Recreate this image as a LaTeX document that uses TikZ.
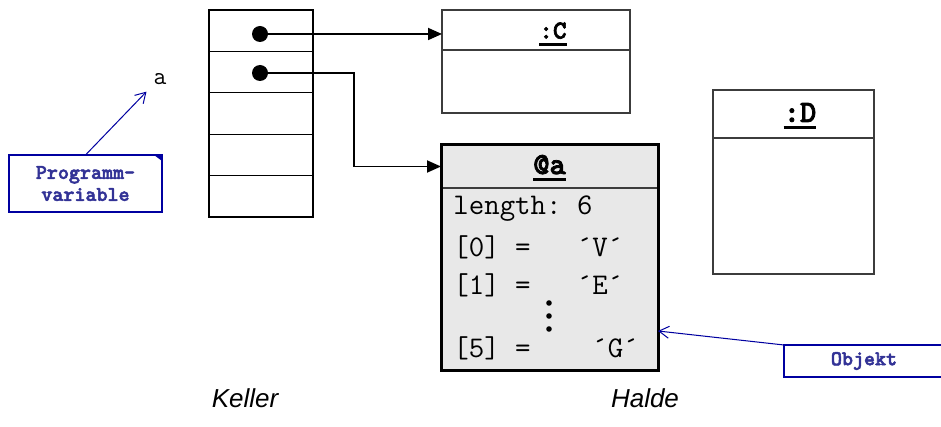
\documentclass[tikz,border=0pt]{standalone}
\usepackage{fontspec}
\setmainfont{Liberation Sans}
\newfontfamily\fettmono{lmmonolt10-bold.otf}[FakeBold=2.5]
\usetikzlibrary{arrows.meta}
\definecolor{notizblau}{RGB}{0,0,160}
\definecolor{notiztext}{RGB}{50,50,150}
\definecolor{haldegrau}{RGB}{232,232,232}
\definecolor{randgrau}{RGB}{60,60,60}
\newcommand{\objname}[1]{\setbox0\hbox{#1}\rlap{\raisebox{-3.5pt}{\rule{\wd0}{1.3pt}}}\box0}

\begin{document}
\begin{tikzpicture}[x=0.5pt,y=-0.5pt,
    zelle/.style={draw,line width=0.6pt,minimum width=52pt,minimum height=20.7pt,inner sep=0pt,outer sep=0pt},
    punkt/.style={circle,fill,inner sep=0pt,minimum size=8pt},
    zeiger/.style={line width=0.9pt,-{Triangle[length=7pt,width=6pt]}},
    kasten/.style={draw=randgrau,line width=0.6pt,inner sep=0pt,outer sep=0pt},
    kopftext/.style={font=\fettmono\fontsize{15.5}{17}\selectfont},
    feldtext/.style={font=\ttfamily\fontsize{15}{17}\selectfont,anchor=west,inner sep=0pt},
    notiz/.style={draw=notizblau,line width=1pt,fill=white,inner sep=0pt,outer sep=0pt,
        text=notiztext,font=\fettmono\fontsize{10.5}{11}\selectfont,align=center},
    notizpfeil/.style={notizblau,line width=0.5pt,-{Straight Barb[length=5pt,width=6pt]}},
    bereich/.style={font=\itshape\fontsize{13}{15}\selectfont}]
  \useasboundingbox (0,0) rectangle (941,427);

  % Keller
  \foreach \i in {1,...,5}
    \node[zelle] (keller\i) at (261,{10+41.4*(\i-0.5)}) {};
  \node[punkt] (zeiger1) at (260,34) {};
  \node[punkt] (zeiger2) at (260,73) {};

  % Objekt :C
  \node[kasten,minimum width=94pt,minimum height=20pt] (cKopf) at (536,30) {};
  \node[kasten,minimum width=94pt,minimum height=31.5pt] (cRumpf) at (536,81.5) {};
  \node[kopftext,font=\fettmono\fontsize{13}{15}\selectfont] at (553,34) {\objname{:C}};

  % Objekt :D
  \node[kasten,minimum width=80.5pt,minimum height=24pt] (dKopf) at (793.5,114) {};
  \node[kasten,minimum width=80.5pt,minimum height=68pt] (dRumpf) at (793.5,206) {};
  \node[kopftext] at (800,116) {\objname{:D}};

  % Feld @a
  \node[kasten,fill=haldegrau,minimum width=108.5pt,minimum height=21.5pt] (aKopf) at (549.5,166.5) {};
  \node[kasten,fill=haldegrau,minimum width=108.5pt,minimum height=91pt] (aRumpf) at (549.5,279) {};
  \draw[line width=1.5pt] (aKopf.north west) rectangle (aRumpf.south east);
  \node[kopftext] at (549.5,168) {\objname{@a}};
  \node[feldtext] (laenge) at (453,209) {length:~6};
  \node[feldtext] (feld0) at (453,247) {[0]~=~~~´V´};
  \node[feldtext] (feld1) at (453,285) {[1]~=~~~´E´};
  \node[feldtext] (feld5) at (453,348) {[5]~=~~~~´G´};
  \foreach \y in {303,316,329}
    \fill (549,\y) circle (1.4pt);

  % Zeiger
  \coordinate (knick) at (354,73);
  \draw[zeiger] (zeiger1) -- (zeiger1 -| cKopf.west);
  \draw[zeiger] (zeiger2) -- (knick) |- (aKopf.west);

  % Notizen
  \node[font=\ttfamily\fontsize{12.5}{14}\selectfont] (varA) at (160,79) {a};
  \node[notiz,minimum width=76.5pt,minimum height=28.5pt] (progNotiz) at (85.5,183.5) {Programm-\\variable};
  \fill[notizblau] (progNotiz.north east) -- ++(-4pt,0) -- ++(4pt,-3pt) -- cycle;
  \draw[notizpfeil] (progNotiz.north) -- (varA.south west);
  \node[notiz,minimum width=80pt,minimum height=16pt] (objNotiz) at (864,361) {Objekt};
  \draw[notizpfeil] (objNotiz.north west) -- ([yshift=-26pt]aRumpf.east);

  % Bereiche
  \node[bereich] (keller) at (245,398) {Keller};
  \node[bereich] (halde) at (645,398) {Halde};
\end{tikzpicture}
\end{document}
